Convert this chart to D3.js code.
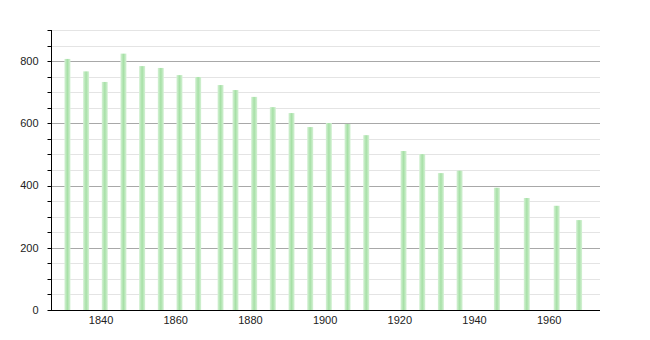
<!DOCTYPE html>
<html>
<head>
<meta charset="utf-8">
<script src="https://cdn.jsdelivr.net/npm/d3@7"></script>
<style>
  body { margin: 0; background: #fff; }
  svg { display: block; font-family: "Liberation Sans", Arial, sans-serif; }
</style>
</head>
<body>
<svg id="chart" width="650" height="340"></svg>
<script>
// census years and population
const years = [1831, 1836, 1841, 1846, 1851, 1856, 1861, 1866, 1872, 1876, 1881, 1886, 1891,
               1896, 1901, 1906, 1911, 1921, 1926, 1931, 1936, 1946, 1954, 1962, 1968];
const population = [807, 767, 733, 824, 784, 778, 755, 749, 723, 707, 685, 652, 633,
                    588, 601, 598, 562, 511, 501, 440, 448, 393, 360, 335, 289];
const xTicks = [1840, 1860, 1880, 1900, 1920, 1940, 1960];
const yLabels = [0, 200, 400, 600, 800];

const svg = d3.select("#chart");
const plotL = 51, plotR = 600, plotT = 30, plotB = 310;

const x = d3.scaleLinear().domain([1826.6, 1973.6]).range([plotL, plotR]);
const y = d3.scaleLinear().domain([0, 900]).range([plotB, plotT]);

// bar gradient (light edges, darker middle)
const grad = svg.append("defs").append("linearGradient")
    .attr("id", "barGrad").attr("x1", "0%").attr("x2", "100%").attr("y1", "0%").attr("y2", "0%");
grad.append("stop").attr("offset", "0%").attr("stop-color", "#d6f2d6");
grad.append("stop").attr("offset", "50%").attr("stop-color", "#a6e0a6");
grad.append("stop").attr("offset", "100%").attr("stop-color", "#d6f2d6");

// gridlines every 50, darker every 200
const gridVals = d3.range(50, 901, 50);
svg.append("g").selectAll("line")
    .data(gridVals)
    .join("line")
    .attr("x1", plotL).attr("x2", plotR)
    .attr("y1", d => Math.round(y(d)) + 0.5)
    .attr("y2", d => Math.round(y(d)) + 0.5)
    .attr("stroke", d => d % 200 === 0 ? "#a8a8a8" : "#e4e4e4")
    .attr("stroke-width", 1);

// bars
const barW = 6;
svg.append("g").selectAll("rect")
    .data(years.map((yr, i) => ({ yr, v: population[i] })))
    .join("rect")
    .attr("x", d => x(d.yr) - barW / 2)
    .attr("y", d => y(d.v))
    .attr("width", barW)
    .attr("height", d => plotB - y(d.v))
    .attr("fill", "url(#barGrad)");

// y axis
const yAxis = svg.append("g").attr("transform", `translate(${plotL + 0.5},0)`);
yAxis.append("line").attr("y1", plotT).attr("y2", plotB).attr("stroke", "#000");
yAxis.selectAll(".tk").data(d3.range(0, 901, 50)).join("line")
    .attr("class", "tk")
    .attr("x1", -4).attr("x2", 0)
    .attr("y1", d => Math.round(y(d)) + 0.5)
    .attr("y2", d => Math.round(y(d)) + 0.5)
    .attr("stroke", "#000");
yAxis.selectAll("text").data(yLabels).join("text")
    .attr("x", -13)
    .attr("y", d => y(d))
    .attr("dy", "0.35em")
    .attr("text-anchor", "end")
    .attr("font-size", 11)
    .attr("fill", "#222")
    .text(d => d);

// x axis
const xAxis = svg.append("g");
xAxis.append("line")
    .attr("x1", plotL).attr("x2", plotR)
    .attr("y1", plotB + 0.5).attr("y2", plotB + 0.5)
    .attr("stroke", "#000");
xAxis.selectAll("text").data(xTicks).join("text")
    .attr("x", d => x(d))
    .attr("y", plotB + 14)
    .attr("text-anchor", "middle")
    .attr("font-size", 11)
    .attr("fill", "#222")
    .text(d => d);
</script>
</body>
</html>
